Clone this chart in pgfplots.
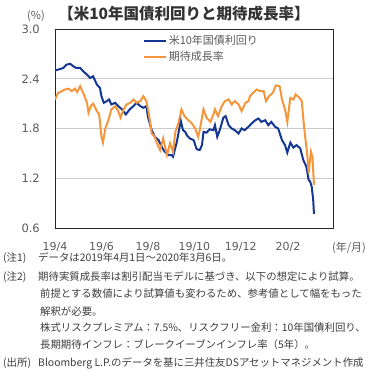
\documentclass[border=0pt]{standalone}
\usepackage{pgfplots}
\pgfplotsset{compat=1.18}
\usepackage{fontspec}
\setmainfont{Noto Sans CJK JP}
\newfontfamily\latinf{DejaVu Sans}
\definecolor{cblue}{RGB}{20,55,150}
\definecolor{corange}{RGB}{245,150,60}
\definecolor{cgrid}{RGB}{200,204,200}
\definecolor{ctext}{RGB}{60,60,60}
\definecolor{ctick}{RGB}{90,90,90}
\begin{document}
\begin{tikzpicture}
\useasboundingbox (0,0) rectangle (376pt,378pt);
\begin{axis}[
  at={(55pt,150pt)}, anchor=south west,
  scale only axis, width=278pt, height=199pt,
  xmin=0, xmax=365, ymin=0.6, ymax=3.0,
  xtick={0,61,122,183,244,306},
  xticklabels={19/4,19/6,19/8,19/10,19/12,20/2},
  ytick={0.6,1.2,1.8,2.4,3.0},
  yticklabel style={/pgf/number format/fixed,/pgf/number format/precision=1,/pgf/number format/fixed zerofill, font=\latinf\fontsize{11.5}{13}\selectfont, text=ctick, inner sep=0pt, xshift=-15pt},
  xticklabel style={font=\latinf\fontsize{11}{13}\selectfont, text=ctick, inner sep=0pt, yshift=-14pt},
  /pgf/number format/assume math mode=true,
  major tick length=0pt,
  ymajorgrids, grid style={cgrid, line width=0.8pt},
  axis line style={black!85, line width=0.8pt},
  legend style={draw=none, fill=none, at={(0.315,0.98)}, anchor=north west,
    font=\fontsize{11}{13}\selectfont, text=ctick, row sep=1.5pt, inner sep=0pt},
  legend cell align=left,
  legend image code/.code={\draw[#1, line width=2pt] (0pt,0pt) -- (22pt,0pt);},
]
\addplot[cblue, line width=2pt] coordinates {
(0,2.50)(4,2.51)(11,2.53)(15,2.57)(20,2.58)(24,2.55)(28,2.53)(33,2.53)(37,2.49)(42,2.45)(46,2.41)(50,2.43)(55,2.33)(59,2.29)(61,2.19)(64,2.11)(68,2.13)(71,2.15)(74,2.09)(79,2.11)(83,2.07)(88,2.03)(93,1.97)(98,2.03)(103,2.07)(107,2.11)(112,2.07)(116,2.05)(120,2.07)(122,1.94)(127,1.78)(131,1.70)(136,1.66)(140,1.58)(144,1.52)(149,1.48)(153,1.48)(155,1.46)(160,1.64)(164,1.84)(165,1.90)(168,1.78)(171,1.76)(173,1.72)(177,1.68)(182,1.66)(186,1.55)(190,1.54)(193,1.60)(195,1.76)(199,1.75)(203,1.79)(208,1.78)(210,1.84)(213,1.70)(217,1.80)(221,1.93)(224,1.95)(228,1.84)(232,1.80)(236,1.78)(241,1.74)(245,1.80)(249,1.78)(254,1.82)(258,1.86)(263,1.90)(267,1.92)(271,1.88)(276,1.90)(280,1.84)(284,1.88)(289,1.82)(293,1.80)(298,1.66)(302,1.60)(305,1.51)(309,1.63)(313,1.57)(317,1.60)(322,1.56)(326,1.42)(330,1.34)(333,1.18)(335,1.16)(337,1.10)(339,0.94)(340,0.77)
};
\addlegendentry{米10年国債利回り}
\addplot[corange, line width=2pt] coordinates {
(0,2.15)(4,2.23)(9,2.25)(13,2.27)(18,2.28)(22,2.25)(26,2.28)(29,2.24)(33,2.31)(37,2.23)(42,2.11)(44,1.99)(47,2.07)(50,2.10)(55,2.01)(58,1.97)(61,1.70)(63,1.63)(66,1.80)(70,1.90)(74,2.03)(79,2.07)(83,2.01)(86,1.93)(90,2.03)(94,2.09)(99,2.11)(103,2.15)(107,2.11)(112,2.13)(116,2.19)(120,2.13)(123,1.99)(127,1.74)(131,1.70)(134,1.62)(138,1.54)(142,1.68)(144,1.60)(147,1.48)(151,1.62)(155,1.52)(158,1.76)(162,1.86)(166,2.03)(170,1.95)(175,1.90)(179,1.87)(184,1.80)(188,1.70)(190,1.78)(195,2.03)(199,1.93)(204,1.88)(208,1.97)(210,2.03)(214,1.95)(219,2.07)(223,2.13)(228,2.15)(232,2.09)(236,2.13)(241,2.09)(245,2.01)(250,2.11)(254,2.13)(256,2.19)(260,2.23)(265,2.27)(269,2.25)(274,2.25)(277,2.13)(281,2.19)(286,2.23)(290,2.32)(295,2.31)(298,2.15)(302,2.03)(305,1.88)(309,2.17)(313,2.15)(316,2.21)(321,2.17)(324,2.13)(327,1.82)(331,1.50)(333,1.26)(336,1.52)(338,1.46)(340,1.12)
};
\addlegendentry{期待成長率}
\end{axis}
\node[font=\bfseries\fontsize{15.5}{17}\selectfont, text=black!80] at (184pt,364pt) {【米10年国債利回りと期待成長率】};
\node[font=\fontsize{11}{13}\selectfont, text=ctick] at (36pt,362pt) {(\%)};
\node[font=\fontsize{11}{13}\selectfont, text=ctick] at (349pt,130pt) {(年/月)};
\begin{scope}[every node/.style={anchor=base west, inner sep=0pt, text=ctext, font=\fontsize{10.4}{12}\selectfont}]
\node at (3pt,116pt) {(注1)};
\node at (38pt,116pt) {データは2019年4月1日～2020年3月6日。};
\node at (3pt,97pt) {(注2)};
\node at (38pt,97pt) {期待実質成長率は割引配当モデルに基づき、以下の想定により試算。};
\node at (40pt,80pt) {前提とする数値により試算値も変わるため、参考値として幅をもった};
\node at (40pt,63pt) {解釈が必要。};
\node at (40pt,46pt) {株式リスクプレミアム：7.5\%、リスクフリー金利：10年国債利回り、};
\node at (40pt,29pt) {長期期待インフレ：ブレークイーブンインフレ率（5年）。};
\node at (3pt,11pt) {(出所)};
\node at (38pt,11pt) {Bloomberg L.P.のデータを基に三井住友DSアセットマネジメント作成};
\end{scope}
\end{tikzpicture}
\end{document}
